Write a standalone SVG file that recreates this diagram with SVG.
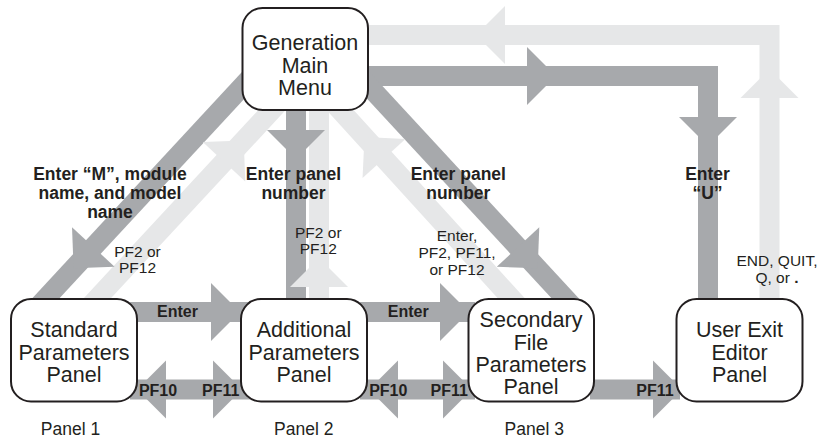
<svg xmlns="http://www.w3.org/2000/svg" xmlns:xlink="http://www.w3.org/1999/xlink" width="823" height="442" viewBox="0 0 823 442">
<style>
.dk{stroke:#a7a9ac;stroke-width:20;fill:none;stroke-linejoin:miter}
.lt{stroke:#e6e7e8;stroke-width:20;fill:none;stroke-linejoin:miter}
.hd{fill:#a7a9ac}
.hl{fill:#e6e7e8}
.box{fill:#ffffff;stroke:#231f20;stroke-width:2}
text{font-family:"Liberation Sans",Arial,Helvetica,sans-serif;fill:#231f20;text-anchor:middle}
.n{font-size:21.5px}
.b{font-size:17.5px;font-weight:bold}
.s{font-size:16px;font-weight:bold}
.r{font-size:15.5px}
.p{font-size:17.5px}
</style>
<defs>
<path id="ah" d="M0,-29 L29,0 L0,29 Z"/>
</defs>
<g id="connectors">
<path class="lt" d="M360 35 H769.5 V305"/>
<path class="dk" d="M360 76 H708 V305"/>
<path class="dk" d="M296 100 V305"/>
<path class="lt" d="M319 100 V305"/>
<path class="dk" d="M35 310 L255.5 72"/>
<path class="lt" d="M86.4 310 L286 95"/>
<path class="lt" d="M522 310 L326.4 95"/>
<path class="dk" d="M576 310 L355 71"/>
<path class="dk" d="M130 312 H250"/>
<path class="dk" d="M360 312 H475"/>
<path class="dk" d="M130 389.5 H250"/>
<path class="dk" d="M360 389.5 H475"/>
<path class="dk" d="M590 389.5 H680"/>
<use xlink:href="#ah" class="hl" transform="translate(505 35) rotate(180)"/>
<use xlink:href="#ah" class="hl" transform="translate(769.5 98) rotate(-90)"/>
<use xlink:href="#ah" class="hd" transform="translate(527 76)"/>
<use xlink:href="#ah" class="hd" transform="translate(708 117) rotate(90)"/>
<use xlink:href="#ah" class="hd" transform="translate(296 130) rotate(90)"/>
<use xlink:href="#ah" class="hl" transform="translate(319 287) rotate(-90)"/>
<use xlink:href="#ah" class="hd" transform="translate(93.3 247) rotate(132.8)"/>
<use xlink:href="#ah" class="hl" transform="translate(224 161.7) rotate(-47.1)"/>
<use xlink:href="#ah" class="hl" transform="translate(384 158.5) rotate(-132.3)"/>
<use xlink:href="#ah" class="hd" transform="translate(518 247) rotate(47.2)"/>
<use xlink:href="#ah" class="hd" transform="translate(211 312)"/>
<use xlink:href="#ah" class="hd" transform="translate(440 312)"/>
<use xlink:href="#ah" class="hd" transform="translate(166 389.5) rotate(180)"/>
<use xlink:href="#ah" class="hd" transform="translate(213 389.5)"/>
<use xlink:href="#ah" class="hd" transform="translate(398 389.5) rotate(180)"/>
<use xlink:href="#ah" class="hd" transform="translate(443 389.5)"/>
<use xlink:href="#ah" class="hd" transform="translate(653 389.5)"/>
</g>
<g id="main">
<rect class="box" x="242.5" y="8" width="125.5" height="102" rx="20"/>
<text class="n" x="305" y="49.5">Generation</text>
<text class="n" x="305" y="72.5">Main</text>
<text class="n" x="305" y="95">Menu</text>
</g>
<g id="standard">
<rect class="box" x="11" y="299" width="126" height="102.5" rx="20"/>
<text class="n" x="74" y="337">Standard</text>
<text class="n" x="74" y="359.5">Parameters</text>
<text class="n" x="74" y="382">Panel</text>
</g>
<g id="additional">
<rect class="box" x="241" y="299" width="126" height="102.5" rx="20"/>
<text class="n" x="304" y="337">Additional</text>
<text class="n" x="304" y="359.5">Parameters</text>
<text class="n" x="304" y="382">Panel</text>
</g>
<g id="secondary">
<rect class="box" x="468.5" y="299" width="125.5" height="102.5" rx="20"/>
<text class="n" x="531" y="327">Secondary</text>
<text class="n" x="531" y="349.5">File</text>
<text class="n" x="531" y="371.5">Parameters</text>
<text class="n" x="531" y="393.5">Panel</text>
</g>
<g id="userexit">
<rect class="box" x="676.5" y="299" width="126" height="102.5" rx="20"/>
<text class="n" x="739.5" y="337">User Exit</text>
<text class="n" x="739.5" y="359.5">Editor</text>
<text class="n" x="739.5" y="382">Panel</text>
</g>
<g id="labels">
<text class="b" x="110" y="180">Enter “M”, module</text>
<text class="b" x="110" y="199">name, and model</text>
<text class="b" x="110" y="218">name</text>
<text class="b" x="293.5" y="180">Enter panel</text>
<text class="b" x="293.5" y="199">number</text>
<text class="b" x="458.3" y="180">Enter panel</text>
<text class="b" x="458.3" y="199">number</text>
<text class="b" x="707.5" y="180">Enter</text>
<text class="b" x="707.5" y="199">“U”</text>
<text class="r" x="137.5" y="257">PF2 or</text>
<text class="r" x="137.5" y="273">PF12</text>
<text class="r" x="318.3" y="237.5">PF2 or</text>
<text class="r" x="318.3" y="253.5">PF12</text>
<text class="r" x="457" y="241">Enter,</text>
<text class="r" x="457" y="258">PF2, PF11,</text>
<text class="r" x="457" y="275">or PF12</text>
<text class="r" x="777" y="266">END, QUIT,</text>
<text class="r" x="777" y="283">Q, or <tspan font-weight="bold">.</tspan></text>
<text class="s" x="177.5" y="317">Enter</text>
<text class="s" x="408.3" y="317">Enter</text>
<text class="s" x="158" y="396">PF10</text>
<text class="s" x="220.8" y="396">PF11</text>
<text class="s" x="388.3" y="396">PF10</text>
<text class="s" x="449.2" y="396">PF11</text>
<text class="s" x="655" y="396">PF11</text>
<text class="p" x="70.5" y="435">Panel 1</text>
<text class="p" x="303.8" y="435">Panel 2</text>
<text class="p" x="534.2" y="435">Panel 3</text>
</g>
</svg>
